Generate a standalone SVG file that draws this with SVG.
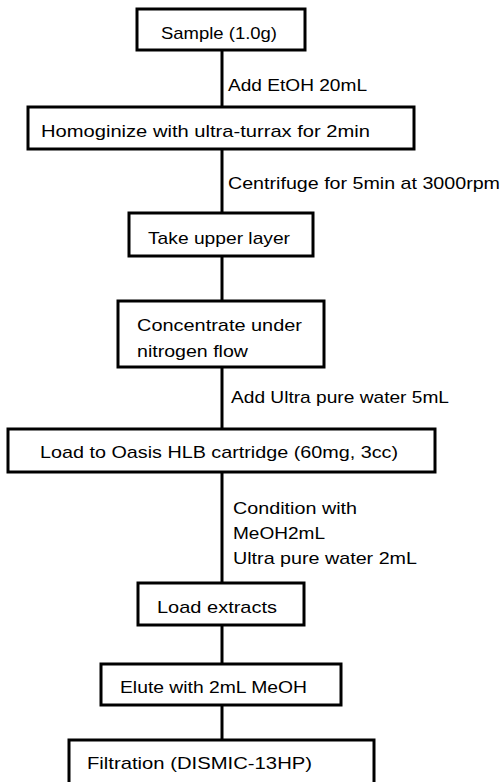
<svg xmlns="http://www.w3.org/2000/svg" width="502" height="782" viewBox="0 0 502 782">
<style>
.box{fill:#fff;stroke:#000;stroke-width:3}
.conn line{stroke:#000;stroke-width:3}
text{font-family:"Liberation Sans","Noto Sans CJK JP",sans-serif;font-size:17px;fill:#000}
</style>
<rect width="502" height="782" fill="#fff"/>
<g id="connectors" class="conn">
<line x1="222" y1="50" x2="222" y2="107"/>
<line x1="222" y1="149" x2="222" y2="213"/>
<line x1="222" y1="256" x2="222" y2="301"/>
<line x1="222" y1="367" x2="222" y2="429"/>
<line x1="222" y1="472" x2="222" y2="583"/>
<line x1="222" y1="625" x2="222" y2="664"/>
<line x1="222" y1="705" x2="222" y2="740"/>
</g>
<g id="labels">
<text x="228" y="91" textLength="139" lengthAdjust="spacingAndGlyphs">Add EtOH 20mL</text>
<text x="228" y="189" textLength="272" lengthAdjust="spacingAndGlyphs">Centrifuge for 5min at 3000rpm</text>
<text x="231" y="403" textLength="218" lengthAdjust="spacingAndGlyphs">Add Ultra pure water 5mL</text>
<text x="233" y="514" textLength="124" lengthAdjust="spacingAndGlyphs">Condition with</text>
<text x="233" y="539" textLength="92" lengthAdjust="spacingAndGlyphs">MeOH2mL</text>
<text x="233" y="564" textLength="184" lengthAdjust="spacingAndGlyphs">Ultra pure water 2mL</text>
</g>
<g id="n1">
<rect class="box" x="137" y="9" width="168" height="41"/>
<text x="161" y="39" textLength="116" lengthAdjust="spacingAndGlyphs">Sample (1.0g)</text>
</g>
<g id="n2">
<rect class="box" x="28" y="107" width="386" height="42"/>
<text x="41" y="137" textLength="329" lengthAdjust="spacingAndGlyphs">Homoginize with ultra-turrax for 2min</text>
</g>
<g id="n3">
<rect class="box" x="129" y="213" width="184" height="43"/>
<text x="148" y="244" textLength="142" lengthAdjust="spacingAndGlyphs">Take upper layer</text>
</g>
<g id="n4">
<rect class="box" x="118" y="301" width="206" height="66"/>
<text x="137" y="331" textLength="165" lengthAdjust="spacingAndGlyphs">Concentrate under</text>
<text x="137" y="357" textLength="111" lengthAdjust="spacingAndGlyphs">nitrogen flow</text>
</g>
<g id="n5">
<rect class="box" x="8" y="429" width="427" height="43"/>
<text x="40" y="458" textLength="358" lengthAdjust="spacingAndGlyphs">Load to Oasis HLB cartridge (60mg, 3cc)</text>
</g>
<g id="n6">
<rect class="box" x="138" y="583" width="166" height="42"/>
<text x="157" y="613" textLength="120" lengthAdjust="spacingAndGlyphs">Load extracts</text>
</g>
<g id="n7">
<rect class="box" x="101" y="664" width="240" height="41"/>
<text x="120" y="693" textLength="187" lengthAdjust="spacingAndGlyphs">Elute with 2mL MeOH</text>
</g>
<g id="n8">
<rect class="box" x="69" y="740" width="305" height="44"/>
<text x="87" y="769" textLength="225" lengthAdjust="spacingAndGlyphs">Filtration (DISMIC-13HP)</text>
</g>
</svg>
